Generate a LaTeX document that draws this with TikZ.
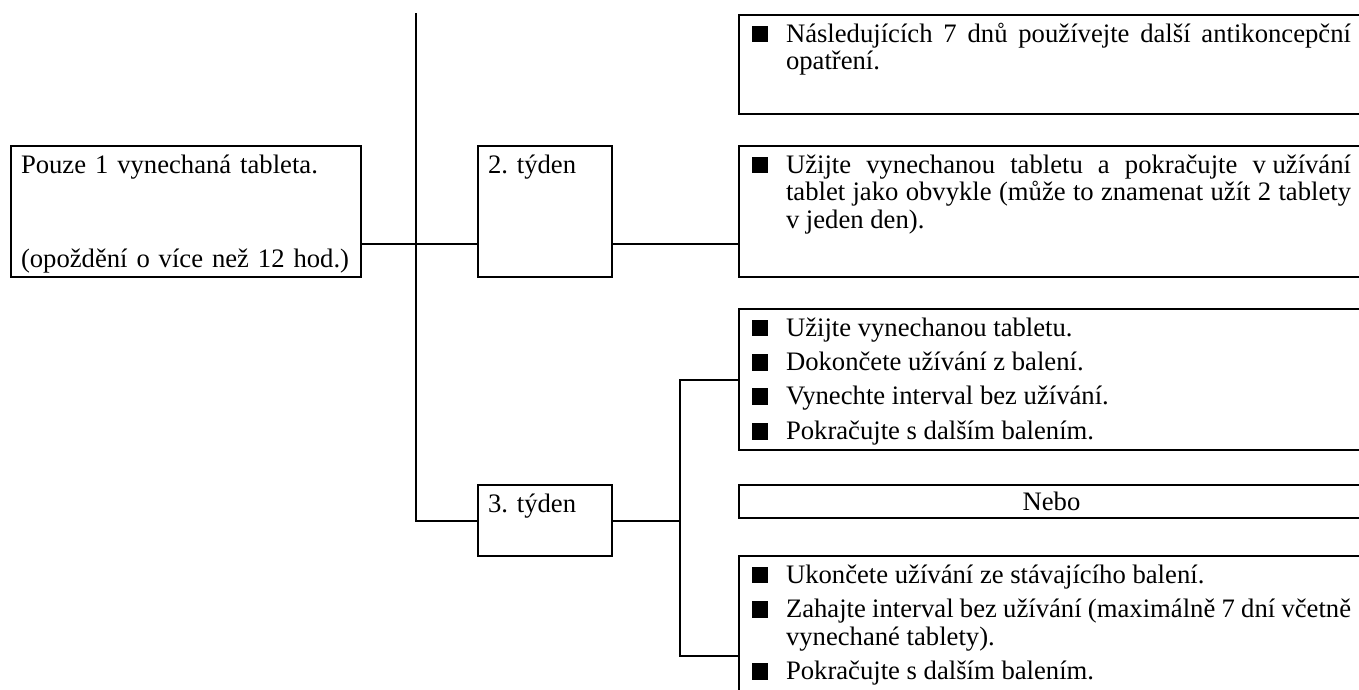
\documentclass[tikz,border=0pt]{standalone}
\usepackage{fontspec}
\setmainfont{Liberation Serif}
\usepackage{tikz}
\newcommand{\sqitem}{\hangindent=15.3pt\hangafter=1\noindent\makebox[15.3pt][l]{\rule[-0.2pt]{7.2pt}{7.6pt}}}
\newcommand{\nextitem}{\par\vspace{3.1pt}}
\hyphenpenalty=10000
\frenchspacing

\begin{document}
\begin{tikzpicture}[x=0.45pt, y=-0.45pt, line width=0.9pt,
  case/.style={rectangle, draw, anchor=north west, inner xsep=4.5pt, inner ysep=3pt,
    text height=9.15pt, font=\fontsize{12pt}{12.4pt}\selectfont, align=left},
  advice/.style={rectangle, draw, anchor=north west, inner xsep=5.85pt, inner ysep=3pt,
    text width=269.55pt, text height=9.15pt, font=\fontsize{12pt}{12.4pt}\selectfont, align=justify}
]
  \useasboundingbox (0,0) rectangle (1359,689);
  \clip (0,0) rectangle (1359,689);

  \node[case, text width=148.5pt, text depth=43.8pt] (miss) at (10,145) {Pouze 1 vynechaná tableta.\\[29.9pt](opoždění o více než 12 hod.)};
  \node[case, text width=51.3pt, text depth=43.8pt] (wk2) at (477,145) {2. týden};
  \node[case, text width=51.3pt, text depth=16.8pt] (wk3) at (477,484) {3. týden};

  \node[advice, text depth=29.4pt] (extra) at (738,14) {\sqitem Následujících 7 dnů používejte další antikoncepční\linebreak opatření.\par};
  \node[advice, text depth=43.8pt] (stay) at (738,145) {\sqitem Užijte vynechanou tabletu a pokračujte \mbox{v užívání}\linebreak tablet jako obvykle (může to znamenat užít 2 tablety\linebreak v jeden den).\par};
  \node[advice, text depth=48.3pt] (skip) at (738,308) {\sqitem Užijte vynechanou tabletu.\nextitem\sqitem Dokončete užívání z balení.\nextitem\sqitem Vynechte interval bez užívání.\nextitem\sqitem Pokračujte s dalším balením.\par};
  \node[rectangle, draw, anchor=north west, inner sep=0pt, minimum width=281.25pt, minimum height=14.85pt,
    font=\fontsize{12pt}{12.4pt}\selectfont] (or) at (738,484) {Nebo};
  \node[advice, text depth=74.85pt] (stop) at (738,555) {\sqitem Ukončete užívání ze stávajícího balení.\nextitem\sqitem Zahajte interval bez užívání (maximálně 7 dní včetně\linebreak vynechané tablety).\nextitem\sqitem Pokračujte s dalším balením.\par};

  \coordinate (spinetop) at (416,13);
  \coordinate (row2) at (416,244);
  \coordinate (fork) at (680,517);

  \draw (spinetop) |- (wk3.west);
  \draw (miss.east |- row2) -- (wk2.west |- row2);
  \draw (wk2.east |- row2) -- (stay.west |- row2);
  \draw (wk3.east) -- (fork |- wk3.east);
  \draw (skip.west) -| (fork) |- (stop.west);
\end{tikzpicture}
\end{document}
